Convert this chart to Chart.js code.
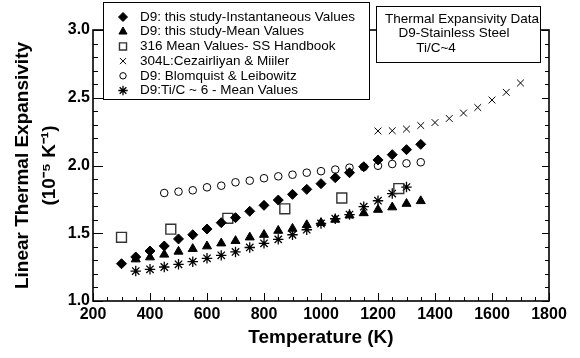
<!DOCTYPE html>
<html>
<head>
<meta charset="utf-8">
<title>Thermal Expansivity Data</title>
<script src="https://cdn.jsdelivr.net/npm/chart.js"></script>
<style>
  body { margin: 0; background: #fff; }
  #chart { display: block; }
</style>
</head>
<body>
<canvas id="chart" width="580" height="358"></canvas>
<script>
// values (temperature in K, expansivity in 1e-5 /K)
const instTemps = [300, 350, 400, 450, 500, 550, 600, 650, 700, 750, 800, 850, 900, 950, 1000, 1050, 1100, 1150, 1200, 1250, 1300, 1350];
const instValues = [1.275, 1.325, 1.369, 1.406, 1.458, 1.489, 1.531, 1.578, 1.615, 1.662, 1.706, 1.745, 1.787, 1.824, 1.866, 1.910, 1.947, 1.991, 2.041, 2.080, 2.117, 2.156];

const meanTemps = [350, 400, 450, 500, 550, 600, 650, 700, 750, 800, 850, 900, 950, 1000, 1050, 1100, 1150, 1200, 1250, 1300, 1350];
const meanValues = [1.308, 1.323, 1.343, 1.365, 1.385, 1.404, 1.426, 1.444, 1.470, 1.489, 1.519, 1.534, 1.561, 1.577, 1.601, 1.632, 1.649, 1.674, 1.692, 1.718, 1.738];

const handbookTemps = [300, 473, 673, 873, 1073, 1273];
const handbookValues = [1.47, 1.53, 1.61, 1.68, 1.76, 1.83];

const cezTemps = [1200, 1250, 1300, 1350, 1400, 1450, 1500, 1550, 1600, 1650, 1700];
const cezValues = [2.255, 2.257, 2.269, 2.295, 2.317, 2.347, 2.387, 2.428, 2.483, 2.540, 2.609];

const blomTemps = [450, 500, 550, 600, 650, 700, 750, 800, 850, 900, 950, 1000, 1050, 1100, 1150, 1200, 1250, 1300, 1350];
const blomValues = [1.797, 1.807, 1.817, 1.839, 1.851, 1.876, 1.888, 1.906, 1.920, 1.932, 1.947, 1.958, 1.970, 1.984, 1.989, 1.998, 2.011, 2.016, 2.024];

const tic6Temps = [350, 400, 450, 500, 550, 600, 650, 700, 750, 800, 850, 900, 950, 1000, 1050, 1100, 1150, 1200, 1250, 1300];
const tic6Values = [1.221, 1.234, 1.251, 1.271, 1.290, 1.315, 1.337, 1.362, 1.395, 1.426, 1.455, 1.489, 1.526, 1.572, 1.607, 1.638, 1.696, 1.740, 1.793, 1.841];

const seriesNames = [
  "D9: this study-Instantaneous Values",
  "D9: this study-Mean Values",
  "316 Mean Values- SS Handbook",
  "304L:Cezairliyan & Miiler",
  "D9: Blomquist & Leibowitz",
  "D9:Ti/C ~ 6 - Mean Values"
];
const infoLines = ["Thermal Expansivity Data", "D9-Stainless Steel", "Ti/C~4"];

const xMin = 200, xMax = 1800, xStep = 200, xMinorStep = 50;
const yMin = 1.0, yMax = 3.0, yStep = 0.5, yMinorStep = 0.1;

const FONT = "'Liberation Sans', Arial, sans-serif";

function toPoints(temps, values) {
  return temps.map((t, i) => ({ x: t, y: values[i] }));
}

function makeSet(label, temps, values, style) {
  return Object.assign({
    label: label,
    data: toPoints(temps, values),
    showLine: false,
    borderColor: "#000",
    backgroundColor: "#000",
    pointBorderWidth: 1,
    pointHoverRadius: 5
  }, style);
}

const datasets = [
  makeSet(seriesNames[0], instTemps, instValues, { pointStyle: "rectRot", pointRadius: 5 }),
  makeSet(seriesNames[1], meanTemps, meanValues, { pointStyle: "triangle", pointRadius: 5.2 }),
  makeSet(seriesNames[2], handbookTemps, handbookValues, { pointStyle: "rect", pointRadius: 7, borderColor: "#333", backgroundColor: "rgba(0,0,0,0)", pointBorderWidth: 1.4 }),
  makeSet(seriesNames[3], cezTemps, cezValues, { pointStyle: "crossRot", pointRadius: 4.8, pointBorderWidth: 1 }),
  makeSet(seriesNames[4], blomTemps, blomValues, { pointStyle: "circle", pointRadius: 3.8, backgroundColor: "rgba(0,0,0,0)", pointBorderWidth: 1 }),
  makeSet(seriesNames[5], tic6Temps, tic6Values, { pointStyle: "star", pointRadius: 5.2, pointBorderWidth: 1.3 })
];

// frame + inward ticks, then the legend box and the info box
const framePlugin = {
  id: "frame",
  beforeDatasetsDraw(chart) {
    const { ctx, chartArea: a, scales } = chart;
    ctx.save();
    ctx.strokeStyle = "#000";
    ctx.lineWidth = 1;
    ctx.beginPath();
    for (let t = xMin; t <= xMax; t += xMinorStep) {
      const px = Math.round(scales.x.getPixelForValue(t)) + 0.5;
      const len = t % xStep === 0 ? 8 : 4;
      ctx.moveTo(px, a.bottom);
      ctx.lineTo(px, a.bottom - len);
    }
    for (let i = 0; i <= Math.round((yMax - yMin) / yMinorStep); i++) {
      const v = yMin + i * yMinorStep;
      const py = Math.round(scales.y.getPixelForValue(v)) + 0.5;
      const major = Math.abs(v / yStep - Math.round(v / yStep)) < 1e-6;
      ctx.moveTo(a.left, py);
      ctx.lineTo(a.left + (major ? 10 : 5), py);
      ctx.moveTo(a.right, py);
      ctx.lineTo(a.right - (major ? 7 : 4), py);
    }
    ctx.stroke();
    ctx.lineWidth = 1.6;
    ctx.strokeRect(a.left, a.top, a.right - a.left, a.bottom - a.top);
    ctx.restore();
  },
  afterDraw(chart) {
    const ctx = chart.ctx;
    ctx.save();
    // legend box
    const lx = 103, ly = 2, lw = 266, lh = 97;
    ctx.fillStyle = "#fff";
    ctx.fillRect(lx, ly, lw, lh);
    ctx.strokeStyle = "#000";
    ctx.lineWidth = 1;
    ctx.strokeRect(lx + 0.5, ly + 0.5, lw, lh);
    ctx.font = "13.5px " + FONT;
    ctx.textBaseline = "middle";
    ctx.textAlign = "left";
    chart.data.datasets.forEach((ds, i) => {
      const y = 17 + i * 14.7;
      ctx.save();
      ctx.fillStyle = ds.backgroundColor;
      ctx.strokeStyle = ds.borderColor;
      ctx.lineWidth = ds.pointBorderWidth;
      const r = ds.pointStyle === "rect" ? 5 : (ds.pointStyle === "circle" ? 3.2 : ds.pointRadius * 0.9);
      Chart.helpers.drawPoint(ctx, { pointStyle: ds.pointStyle, radius: r, borderWidth: ds.pointBorderWidth, rotation: 0 }, 123, y);
      ctx.restore();
      ctx.fillStyle = "#000";
      ctx.fillText(ds.label, 140, y);
    });
    // info box
    const bx = 376, by = 6, bw = 164, bh = 56;
    ctx.fillStyle = "#fff";
    ctx.fillRect(bx, by, bw, bh);
    ctx.strokeRect(bx + 0.5, by + 0.5, bw, bh);
    ctx.fillStyle = "#000";
    ctx.textAlign = "center";
    const centers = [462, 454, 436];
    infoLines.forEach((line, i) => {
      ctx.fillText(line, centers[i], 19 + i * 14.5);
    });
    ctx.restore();
  }
};

new Chart(document.getElementById("chart"), {
  type: "scatter",
  data: { datasets: datasets },
  options: {
    responsive: false,
    animation: false,
    layout: { padding: { top: 30, right: 31, left: 0, bottom: 0 } },
    plugins: {
      legend: { display: false },
      tooltip: { enabled: true }
    },
    scales: {
      x: {
        type: "linear",
        min: xMin,
        max: xMax,
        afterFit(scale) { scale.height = 57; },
        grid: { display: false, drawTicks: false },
        border: { display: false },
        ticks: {
          stepSize: xStep,
          padding: 4,
          color: "#000",
          font: { family: FONT, size: 16, weight: "bold" },
          maxRotation: 0,
          callback: v => String(v)
        },
        title: {
          display: true,
          text: "Temperature (K)",
          color: "#000",
          font: { family: FONT, size: 19, weight: "bold" },
          padding: { top: 0, bottom: 9 }
        }
      },
      y: {
        type: "linear",
        min: yMin,
        max: yMax,
        afterFit(scale) { scale.width = 93; },
        grid: { display: false, drawTicks: false },
        border: { display: false },
        ticks: {
          stepSize: yStep,
          padding: 3,
          color: "#000",
          font: { family: FONT, size: 16, weight: "bold" },
          callback: v => Number(v).toFixed(1)
        },
        title: {
          display: true,
          text: ["Linear Thermal Expansivity", "(10\u207B\u2075 K\u207B\u00B9)"],
          color: "#000",
          font: { family: FONT, size: 19, weight: "bold", lineHeight: 1.42 },
          padding: { top: 9, bottom: 0 }
        }
      }
    }
  },
  plugins: [framePlugin]
});
</script>
</body>
</html>
